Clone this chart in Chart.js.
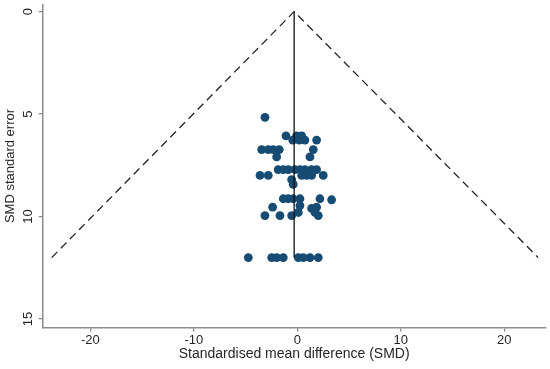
<!DOCTYPE html>
<html>
<head>
<meta charset="utf-8">
<script src="https://cdn.jsdelivr.net/npm/chart.js@4.4.0/dist/chart.umd.min.js"></script>
<style>
    html, body { margin: 0; padding: 0; background: #fff; }
    #wrap { width: 550px; height: 369px; position: relative; }
</style>
</head>
<body>
<div id="wrap"><canvas id="funnel_chart"></canvas></div>
<script>
// study estimates
const smd = [-3.12, -1.09, -0.06, 0.43, -0.44, 0.19, 0.74, 1.87,
    -3.44, -2.8, -2.32, -1.74, 1.55, -1.99, 1.23,
    -1.84, -1.35, -0.87, -0.22, 0.26, 0.74, 1.39, 1.87,
    -3.6, -2.8, 0.43, 0.91, 1.39, 2.51, -0.54, -0.39,
    -1.35, -0.87, -0.39, 0.26, 2.19, 3.32, -2.38, 1.87, 0.26, 1.39,
    1.71, 0.1, -3.12, -1.67, -0.54, 2.03,
    -4.73, -2.47, -1.99, -1.35, 0.1, 0.58, 1.23, 2.03]
const se = [5.16, 6.06, 6.06, 6.06, 6.27, 6.27, 6.27, 6.27,
    6.73, 6.73, 6.73, 6.73, 6.73, 7.09, 7.09,
    7.71, 7.71, 7.71, 7.71, 7.71, 7.71, 7.71, 7.71,
    7.99, 7.99, 7.99, 7.99, 7.99, 7.99, 8.2, 8.43,
    9.13, 9.13, 9.13, 9.13, 9.13, 9.18, 9.54, 9.54, 9.46, 9.6,
    9.8, 9.8, 9.95, 9.95, 9.95, 9.95,
    12, 12, 12, 12, 12, 12, 12, 12]

// pseudo 95% limits and pooled estimate line
const funnelX = [-23.73, -0.3, 23.28]
const funnelY = [12, 0, 12]
const pooledX = [-0.3, -0.3]
const pooledY = [0, 12]

const xTicks = [-20, -10, 0, 10, 20]
const yTicks = [0, 5, 10, 15]

document.addEventListener('DOMContentLoaded', function () {
    const app = {
        variables: {
            ctx: document.getElementById('funnel_chart').getContext('2d'),
            chart: null,
            font: 'Liberation Sans, Arial, Helvetica, sans-serif',
            axisColor: '#8c8c8c',
            textColor: '#262626'
        },
        toPoints: function (xs, ys) {
            let pts = []
            for (let i = 0; i < xs.length; i++) {
                pts.push({x: xs[i], y: ys[i]})
            }
            return pts
        },
        fixedTicks: function (list) {
            return function (scale) {
                scale.ticks = list.map(v => ({value: v}))
            }
        },
        createChart: function () {
            const v = app.variables
            v.chart = new Chart(v.ctx, {
                type: 'scatter',
                data: {
                    datasets: [{
                        label: 'Pooled',
                        data: app.toPoints(pooledX, pooledY),
                        showLine: true,
                        borderColor: '#111',
                        borderWidth: 1.3,
                        pointRadius: 0,
                        order: 0
                    }, {
                        label: 'Funnel',
                        data: app.toPoints(funnelX, funnelY),
                        showLine: true,
                        borderColor: '#222',
                        borderWidth: 1.3,
                        borderDash: [8, 5],
                        pointRadius: 0,
                        order: 1
                    }, {
                        label: 'Studies',
                        data: app.toPoints(smd, se),
                        backgroundColor: '#164c74',
                        borderColor: '#164c74',
                        borderWidth: 0,
                        pointRadius: 4.4,
                        order: 2
                    }]
                },
                options: {
                    responsive: true,
                    maintainAspectRatio: false,
                    animation: false,
                    layout: {padding: {top: 4, right: 4, left: 0, bottom: 0}},
                    plugins: {
                        legend: {display: false},
                        tooltip: {enabled: false}
                    },
                    scales: {
                        x: {
                            type: 'linear',
                            min: -24.6,
                            max: 24.0,
                            afterBuildTicks: app.fixedTicks(xTicks),
                            afterFit: function (scale) {
                                scale.height = 41.3
                                scale.paddingLeft = 0
                                scale.paddingRight = 0
                            },
                            grid: {drawOnChartArea: false, drawTicks: true, tickLength: 4, color: v.axisColor, lineWidth: 1.3},
                            border: {display: true, color: v.axisColor, width: 1.5},
                            ticks: {color: v.textColor, font: {family: v.font, size: 13}, padding: 1, maxRotation: 0},
                            title: {
                                display: true,
                                text: 'Standardised mean difference (SMD)',
                                color: v.textColor,
                                font: {family: v.font, size: 14},
                                padding: {top: 0, bottom: 6}
                            }
                        },
                        y: {
                            type: 'linear',
                            reverse: true,
                            min: -0.35,
                            max: 15.42,
                            afterBuildTicks: app.fixedTicks(yTicks),
                            afterFit: function (scale) {
                                scale.width = 42.7
                                scale.paddingTop = 0
                                scale.paddingBottom = 0
                            },
                            grid: {drawOnChartArea: false, drawTicks: true, tickLength: 4, color: v.axisColor, lineWidth: 1.3},
                            border: {display: true, color: v.axisColor, width: 1.5},
                            ticks: {color: v.textColor, font: {family: v.font, size: 13}, padding: 3,
                                minRotation: 90, maxRotation: 90, crossAlign: 'center'},
                            title: {
                                display: true,
                                text: 'SMD standard error',
                                color: v.textColor,
                                font: {family: v.font, size: 13},
                                padding: {top: 3, bottom: 0}
                            }
                        }
                    }
                }
            })
        },
        run: function () {
            app.createChart()
        }
    }
    app.run()
})
</script>
</body>
</html>
